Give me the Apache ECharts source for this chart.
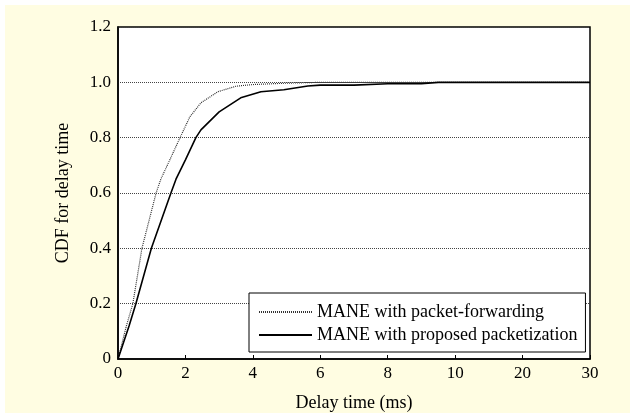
<!DOCTYPE html>
<html>
<head>
<meta charset="utf-8">
<script src="https://cdn.jsdelivr.net/npm/echarts@6/dist/echarts.min.js"></script>
<style>
  body { margin: 0; background: #ffffff; }
  #wrap { position: relative; width: 632px; height: 417px; background: #ffffff; }
  #main { position: absolute; left: 5px; top: 5px; width: 625px; height: 408px; }
</style>
</head>
<body>
<div id="wrap"><div id="main"></div></div>
<script>
// x axis is piecewise: 0..10 in steps of 2, then 10, 20, 30
var xTicks = [0, 2, 4, 6, 8, 10, 20, 30];
var yTicks = [0, 0.2, 0.4, 0.6, 0.8, 1.0, 1.2];

// MANE with packet-forwarding (dotted)
var fwdDelay = [0, 0.25, 0.44, 0.71, 1.13, 1.27, 1.5, 1.84, 2.13, 2.46, 2.96, 3.5, 4, 5, 6, 30];
var fwdCdf   = [0, 0.12, 0.2, 0.4, 0.6, 0.65, 0.71, 0.8, 0.875, 0.926, 0.966, 0.986, 0.992, 0.997, 1.0, 1.0];

// MANE with proposed packetization (solid)
var pktDelay = [0, 0.33, 0.53, 0.99, 1.57, 1.72, 2.0, 2.31, 2.46, 3.0, 3.64, 4.24, 4.92, 5.63, 6, 7, 8, 9, 9.5, 30];
var pktCdf   = [0, 0.12, 0.2, 0.4, 0.6, 0.65, 0.72, 0.8, 0.828, 0.893, 0.944, 0.966, 0.973, 0.987, 0.99, 0.99, 0.995, 0.995, 1.0, 1.0];

var seriesNames = ['MANE with packet-forwarding', 'MANE with proposed packetization'];

// map a delay in ms onto the piecewise axis position (one unit per tick)
function toPos(ms) {
    for (var i = 0; i < xTicks.length - 1; i++) {
        if (ms <= xTicks[i + 1]) {
            return i + (ms - xTicks[i]) / (xTicks[i + 1] - xTicks[i]);
        }
    }
    return xTicks.length - 1;
}

function pairs(xs, ys) {
    return xs.map(function (x, i) { return [toPos(x), ys[i]]; });
}

var serif = '"Liberation Serif", "Times New Roman", serif';

var myChart = echarts.init(document.getElementById('main'));
myChart.setOption({
    backgroundColor: '#fffde2',
    animation: false,
    grid: {
        left: 113, top: 22, width: 472, height: 332,
        outerBoundsMode: 'none',
        show: true,
        backgroundColor: '#ffffff',
        borderColor: '#000',
        borderWidth: 1.5
    },
    legend: {
        orient: 'vertical',
        left: 244, top: 288,
        data: seriesNames,
        backgroundColor: '#ffffff',
        borderColor: '#000',
        borderWidth: 1,
        padding: [10, 8, 8, 9],
        itemWidth: 53,
        itemHeight: 10,
        itemGap: 5,
        // hide the symbol, keep only the line
        itemStyle: { opacity: 0 },
        textStyle: { fontFamily: serif, fontSize: 18, color: '#000' }
    },
    xAxis: {
        type: 'value',
        min: 0, max: xTicks.length - 1, interval: 1,
        name: 'Delay time (ms)',
        nameLocation: 'middle',
        nameGap: 35,
        nameTextStyle: { fontFamily: serif, fontSize: 18, color: '#000' },
        axisLine: { lineStyle: { color: '#000', width: 1.5 } },
        axisTick: { inside: true, length: 4, lineStyle: { color: '#000' } },
        axisLabel: {
            fontFamily: serif, fontSize: 17, color: '#000', margin: 6,
            formatter: function (v) { return String(xTicks[Math.round(v)]); }
        },
        splitLine: { show: false }
    },
    yAxis: {
        type: 'value',
        min: 0, max: 1.2, interval: 0.2,
        name: 'CDF for delay time',
        nameLocation: 'middle',
        nameGap: 46,
        nameTextStyle: { fontFamily: serif, fontSize: 18, color: '#000' },
        axisLine: { show: true, lineStyle: { color: '#000', width: 1.5 } },
        axisTick: { show: false },
        axisLabel: {
            fontFamily: serif, fontSize: 17, color: '#000', margin: 7,
            formatter: function (v) { return v === 0 ? '0' : v.toFixed(1); }
        },
        splitLine: { show: true, lineStyle: { color: '#444', width: 1, type: [1, 1] } }
    },
    series: [{
        name: seriesNames[0],
        type: 'line',
        symbol: 'none',
        data: pairs(fwdDelay, fwdCdf),
        lineStyle: { color: '#333', width: 1.2, type: [1, 1] },
        itemStyle: { color: '#333' }
    }, {
        name: seriesNames[1],
        type: 'line',
        symbol: 'none',
        data: pairs(pktDelay, pktCdf),
        lineStyle: { color: '#000', width: 1.6 },
        itemStyle: { color: '#000' }
    }]
});
</script>
</body>
</html>
